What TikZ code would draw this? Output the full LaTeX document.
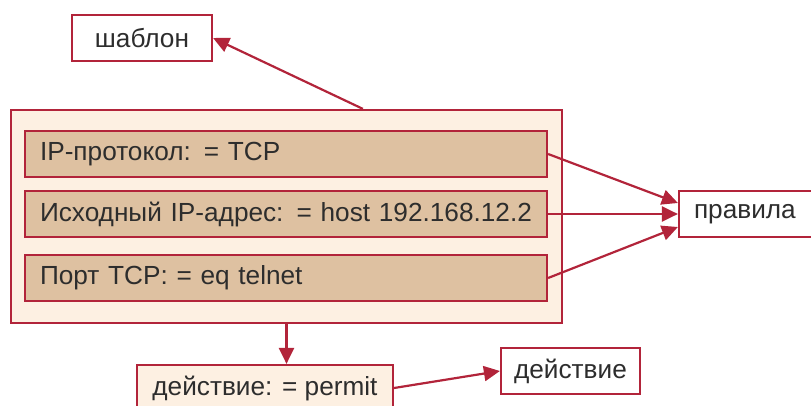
\documentclass[tikz,border=0pt]{standalone}
\usepackage{fontspec}
\setmainfont{Liberation Sans}
\usetikzlibrary{arrows.meta}
\definecolor{bordred}{RGB}{178,36,58}
\definecolor{outerfill}{RGB}{253,240,226}
\definecolor{innerfill}{RGB}{222,193,161}
\definecolor{txt}{RGB}{45,45,45}
\tikzset{
  x=1pt, y=-1pt,
  box/.style={draw=bordred, line width=2.2pt, fill=white, text=txt, font=\fontsize{26.2}{31}\selectfont, inner sep=0pt, minimum height=46pt},
  field/.style={box, fill=innerfill, text width=492pt, align=left, inner xsep=15pt, minimum width=522pt},
  outerbox/.style={draw=bordred, line width=2.2pt, fill=outerfill, minimum width=551pt, minimum height=213pt, inner sep=0pt},
  arr/.style={draw=bordred, line width=2.2pt, -{Triangle[length=16pt,width=15pt]}}
}
\begin{document}
\begin{tikzpicture}
\useasboundingbox (0,0) rectangle (811,406);
\clip (0,0) rectangle (811,406);
\node[outerbox] (outer) at (286.5,216.5) {};
\node[field] (f1) at (286,154) {IP-протокол: = TCP};
\node[field] (f2) at (286,214) {Исходный IP-адрес: = host 192.168.12.2};
\node[field] (f3) at (286,278) {Порт TCP: = eq telnet};
\node[box, minimum width=140pt] (tmpl) at (142,38) {шаблон};
\node[box, minimum width=134pt, text width=104pt, align=left, inner xsep=15pt] (rules) at (746,214) {правила};
\node[box, fill=outerfill, minimum width=256pt, minimum height=46pt] (permit) at (265,388) {действие: = permit};
\node[box, minimum width=139pt] (act) at (570.5,371) {действие};
\draw[arr] ([xshift=353pt]outer.north west) -- (tmpl.east);
\draw[arr] (f1.east) -- ([yshift=11pt]rules.west);
\draw[arr] (f2.east) -- (rules.west);
\draw[arr] (f3.east) -- ([yshift=-13pt]rules.west);
\draw[arr] (outer.south) -- (outer.south |- permit.north);
\draw[arr] (permit.east) -- (act.west);
\end{tikzpicture}
\end{document}
